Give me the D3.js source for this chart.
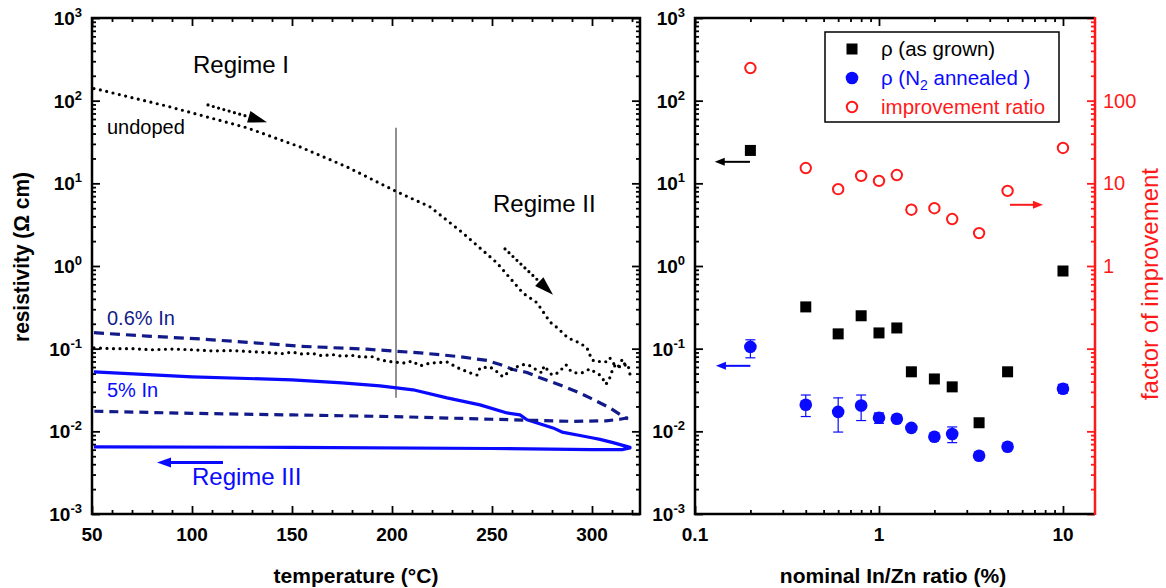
<!DOCTYPE html>
<html><head><meta charset="utf-8">
<script src="https://cdn.jsdelivr.net/npm/d3@7"></script>
<style>
body{margin:0;background:#fff}
svg{display:block}
text{font-family:"Liberation Sans",Arial,Helvetica,sans-serif}
</style>
</head><body>
<svg id="chart" width="1166" height="588"></svg>
<script>
// ---------------- DATA ----------------
const tempTicks = [50, 100, 150, 200, 250, 300];
const decadeExps = [-3, -2, -1, 0, 1, 2, 3];
const ratioTicks = [0.1, 1, 10];
const ratioTickLabels = ["0.1", "1", "10"];
const factorTicks = [1, 10, 100];
const factorTickLabels = ["1", "10", "100"];

// left panel: undoped, heating (Regime I/II)
const undopedHeatT   = [51, 52.5, 70.5, 87.5, 104, 127.5, 154, 177.5, 202.5, 219, 235.5, 252.5, 265.5, 272.5, 279, 282.5, 288, 294, 297.5, 300, 302.5, 305, 307.5, 309, 310.5, 313, 315, 316.5, 318];
const undopedHeatRho = [140, 138, 108, 86, 67, 47, 27.6, 15.8, 7.9, 5.2, 2.5, 1.09, 0.47, 0.36, 0.21, 0.18, 0.135, 0.117, 0.102, 0.073, 0.069, 0.071, 0.069, 0.077, 0.067, 0.060, 0.073, 0.064, 0.055];
// left panel: undoped, cooling
const undopedCoolT   = [51, 60, 70, 80, 90, 100, 110, 120, 130, 140, 145, 150, 155, 160, 165, 170, 175, 180, 185, 190, 194, 200.5, 206.5, 210, 214, 219, 227.5, 234, 239, 242.5, 244, 249, 251.5, 255.5, 260, 265, 268, 272.5, 275, 276, 280, 283, 287, 289, 291, 295, 299, 302, 304, 306, 307, 309, 310.5, 312, 314, 316, 318, 319];
const undopedCoolRho = [0.102, 0.100, 0.100, 0.097, 0.099, 0.097, 0.094, 0.095, 0.092, 0.089, 0.087, 0.091, 0.086, 0.088, 0.082, 0.085, 0.081, 0.083, 0.079, 0.080, 0.073, 0.069, 0.067, 0.071, 0.062, 0.067, 0.069, 0.057, 0.051, 0.048, 0.0585, 0.060, 0.055, 0.0456, 0.057, 0.064, 0.064, 0.055, 0.051, 0.062, 0.048, 0.051, 0.064, 0.055, 0.051, 0.051, 0.057, 0.051, 0.048, 0.041, 0.037, 0.045, 0.058, 0.065, 0.060, 0.066, 0.064, 0.049];
// left panel: 0.6% In
const in06HeatT   = [51, 52.5, 77.5, 104, 130.5, 154, 187.5, 202.5, 214, 234, 247.5, 254, 260.5, 267.5, 274, 284, 294, 299, 309, 316.5, 318];
const in06HeatRho = [0.156, 0.155, 0.142, 0.131, 0.118, 0.107, 0.0985, 0.093, 0.089, 0.080, 0.072, 0.0644, 0.056, 0.0515, 0.0445, 0.0364, 0.029, 0.0254, 0.0192, 0.0146, 0.0142];
const in06CoolT   = [318, 314, 307, 290, 250, 200, 150, 100, 51];
const in06CoolRho = [0.0146, 0.0140, 0.0134, 0.0132, 0.0140, 0.0151, 0.0158, 0.0165, 0.0175];
// left panel: 5% In
const in5HeatT   = [51, 100, 150, 175, 194, 210.5, 227.5, 244, 257.5, 264, 267.5, 280.5, 285, 294, 300.5, 304, 310.5, 319];
const in5HeatRho = [0.0525, 0.0456, 0.042, 0.0386, 0.0355, 0.0318, 0.0254, 0.0209, 0.0167, 0.0158, 0.0138, 0.0110, 0.0098, 0.0089, 0.0083, 0.0080, 0.0073, 0.0064];
const in5CoolT   = [319, 315, 300, 250, 150, 51];
const in5CoolRho = [0.0063, 0.0060, 0.0060, 0.0062, 0.0064, 0.0065];

// right panel
const inZnRatio        = [0.2, 0.4, 0.6, 0.8, 1.0, 1.25, 1.5, 2, 2.5, 3.5, 5, 10];
const rhoAsGrown       = [25, 0.32, 0.151, 0.25, 0.155, 0.178, 0.0525, 0.043, 0.0345, 0.0127, 0.0525, 0.87];
const rhoAnnealed      = [0.105, 0.021, 0.0172, 0.0205, 0.0146, 0.0142, 0.011, 0.0086, 0.0093, 0.00506, 0.0065, 0.0327];
const rhoAnnealedErrHi = [0.128, 0.0275, 0.0254, 0.0275, 0.0167, null, null, null, 0.0113, null, null, 0.037];
const rhoAnnealedErrLo = [0.0775, 0.0151, 0.0098, 0.0135, 0.0125, null, null, null, 0.0073, null, null, 0.029];
const improvementRatio = [248, 15.3, 8.5, 12.3, 10.7, 12.6, 4.8, 5.0, 3.7, 2.5, 8.1, 26.8];

const legendLabels = ["ρ (as grown)", "ρ (N₂ annealed )", "improvement ratio"];

// ---------------- LAYOUT ----------------
const svg = d3.select("#chart");
const TOP = 18, BOT = 514;
const L = {x0: 92, x1: 640};
const R = {x0: 695, x1: 1095};
const NAVY = "#121a8a", BLUE = "#0a0aff", RED = "#ff1a1a";

const xT = d3.scaleLinear().domain([50, 324]).range([L.x0, L.x1]);
const yL = d3.scaleLog().domain([1e-3, 1e3]).range([BOT, TOP]);
const xR = d3.scaleLog().domain([0.1, 14.93]).range([R.x0, R.x1]);
const yR = d3.scaleLog().domain([1e-3, 1e3]).range([BOT, TOP]);
const yF = d3.scaleLog().domain([1e-3, 1e3]).range([BOT, TOP]);

const logMajors = decadeExps.map(k => Math.pow(10, k));
const logMinors = [];
decadeExps.slice(0, -1).forEach(k => { for (let m = 2; m <= 9; m++) logMinors.push(m * Math.pow(10, k)); });
const tempMinors = d3.range(60, 324, 10).filter(v => v % 50 !== 0);
const ratioMinors = [];
[-1, 0].forEach(k => { for (let m = 2; m <= 9; m++) ratioMinors.push(m * Math.pow(10, k)); });

function tickAxis(gen, scale, vals, size, transform, color) {
  const g = svg.append("g").attr("transform", transform)
    .call(gen(scale).tickValues(vals).tickSize(size).tickSizeOuter(0).tickFormat(""));
  g.select(".domain").remove();
  g.selectAll("line").attr("stroke", color || "#000").attr("stroke-width", 1.8);
  return g;
}

// ---- left panel ticks ----
tickAxis(d3.axisRight, yL, logMajors, 8, `translate(${L.x0},0)`);
tickAxis(d3.axisRight, yL, logMinors, 4, `translate(${L.x0},0)`);
tickAxis(d3.axisLeft, yL, logMajors, 8, `translate(${L.x1},0)`);
tickAxis(d3.axisLeft, yL, logMinors, 4, `translate(${L.x1},0)`);
tickAxis(d3.axisTop, xT, tempTicks, 8, `translate(0,${BOT})`);
tickAxis(d3.axisTop, xT, tempMinors, 4, `translate(0,${BOT})`);
tickAxis(d3.axisBottom, xT, tempTicks, 8, `translate(0,${TOP})`);
tickAxis(d3.axisBottom, xT, tempMinors, 4, `translate(0,${TOP})`);

// ---- right panel ticks ----
tickAxis(d3.axisRight, yR, logMajors, 8, `translate(${R.x0},0)`);
tickAxis(d3.axisRight, yR, logMinors, 4, `translate(${R.x0},0)`);
tickAxis(d3.axisLeft, yF, logMajors, 8, `translate(${R.x1},0)`, RED);
tickAxis(d3.axisLeft, yF, logMinors, 4, `translate(${R.x1},0)`, RED);
tickAxis(d3.axisTop, xR, ratioTicks, 8, `translate(0,${BOT})`);
tickAxis(d3.axisTop, xR, ratioMinors, 4, `translate(0,${BOT})`);
tickAxis(d3.axisBottom, xR, ratioTicks, 8, `translate(0,${TOP})`);
tickAxis(d3.axisBottom, xR, ratioMinors, 4, `translate(0,${TOP})`);

// ---- frames ----
svg.append("rect").attr("x", L.x0).attr("y", TOP).attr("width", L.x1 - L.x0).attr("height", BOT - TOP)
  .attr("fill", "none").attr("stroke", "#000").attr("stroke-width", 2.5);
svg.append("path").attr("d", `M${R.x1},${TOP}H${R.x0}V${BOT}H${R.x1}`)
  .attr("fill", "none").attr("stroke", "#000").attr("stroke-width", 2.5);
svg.append("line").attr("x1", R.x1).attr("x2", R.x1).attr("y1", TOP - 1).attr("y2", BOT + 1)
  .attr("stroke", RED).attr("stroke-width", 2.5);

// ---- tick labels ----
function powLabels(scale, xEnd) {
  decadeExps.forEach(k => {
    const t = svg.append("text").attr("x", xEnd).attr("y", scale(Math.pow(10, k)) + 7)
      .attr("text-anchor", "end").attr("font-weight", "bold").attr("font-size", 19);
    t.append("tspan").text("10");
    t.append("tspan").attr("dy", -8).attr("font-size", 13).text(k);
  });
}
powLabels(yL, 82);
powLabels(yR, 685);

tempTicks.forEach(v => {
  svg.append("text").attr("x", xT(v)).attr("y", 541).attr("text-anchor", "middle")
    .attr("font-weight", "bold").attr("font-size", 19).text(v);
});
ratioTicks.forEach((v, i) => {
  svg.append("text").attr("x", xR(v)).attr("y", 541).attr("text-anchor", "middle")
    .attr("font-weight", "bold").attr("font-size", 19).text(ratioTickLabels[i]);
});
factorTicks.forEach((v, i) => {
  svg.append("text").attr("x", 1103).attr("y", yF(v) + 7).attr("fill", RED)
    .attr("font-size", 20).text(factorTickLabels[i]);
});

// ---- axis titles ----
svg.append("text").attr("transform", "translate(29,257) rotate(-90)").attr("text-anchor", "middle")
  .attr("font-weight", "bold").attr("font-size", 22)
  .attr("textLength", 170).attr("lengthAdjust", "spacingAndGlyphs").text("resistivity (Ω cm)");
svg.append("text").attr("x", 356).attr("y", 583).attr("text-anchor", "middle")
  .attr("font-weight", "bold").attr("font-size", 21).text("temperature (°C)");
svg.append("text").attr("x", 893).attr("y", 583).attr("text-anchor", "middle")
  .attr("font-weight", "bold").attr("font-size", 21).text("nominal In/Zn ratio (%)");
svg.append("text").attr("transform", "translate(1158,284) rotate(-90)").attr("text-anchor", "middle")
  .attr("fill", RED).attr("font-size", 24).text("factor of improvement");

// ---- left panel curves ----
const lineL = d3.line().x(d => xT(d[0])).y(d => yL(d[1]));
const zip = (a, b) => a.map((v, i) => [v, b[i]]);
const gL = svg.append("g");

// vertical marker line
gL.append("line").attr("x1", xT(202)).attr("x2", xT(202)).attr("y1", yL(47)).attr("y2", yL(0.0254))
  .attr("stroke", "#555").attr("stroke-width", 1.3);

const dotted = {stroke: "#000", width: 3.2, dash: "0,6.5", cap: "round"};
function drawPath(pts, st) {
  gL.append("path").attr("d", lineL(pts)).attr("fill", "none").attr("stroke", st.stroke)
    .attr("stroke-width", st.width).attr("stroke-dasharray", st.dash || null)
    .attr("stroke-linecap", st.cap || "butt").attr("stroke-linejoin", "round");
}
drawPath(zip(in5HeatT, in5HeatRho).concat(zip(in5CoolT, in5CoolRho)), {stroke: BLUE, width: 3.2});
drawPath(zip(in06HeatT, in06HeatRho), {stroke: NAVY, width: 3.2, dash: "10,6"});
drawPath(zip(in06CoolT, in06CoolRho), {stroke: NAVY, width: 3.2, dash: "9,6"});
drawPath(zip(undopedHeatT, undopedHeatRho), dotted);
drawPath(zip(undopedCoolT, undopedCoolRho), dotted);

// arrows
function arrow(g, x1, y1, x2, y2, o) {
  const dx = x2 - x1, dy = y2 - y1, len = Math.hypot(dx, dy);
  const ux = dx / len, uy = dy / len;
  const bx = x2 - ux * o.head, by = y2 - uy * o.head;
  g.append("line").attr("x1", x1).attr("y1", y1).attr("x2", bx + ux * 1).attr("y2", by + uy * 1)
    .attr("stroke", o.color).attr("stroke-width", o.width)
    .attr("stroke-dasharray", o.dash || null).attr("stroke-linecap", o.dash ? "round" : "butt");
  const px = -uy * o.hw, py = ux * o.hw;
  g.append("path").attr("d", `M${x2},${y2}L${bx + px},${by + py}L${bx - px},${by - py}Z`).attr("fill", o.color);
}
arrow(gL, xT(108), yL(88.7), xT(137.5), yL(55), {color: "#000", width: 3.2, dash: "0,5.5", head: 19, hw: 6});
arrow(gL, xT(256.5), yL(1.61), xT(280.5), yL(0.45), {color: "#000", width: 3.2, dash: "0,5.5", head: 19, hw: 6});
arrow(gL, xT(115.5), yL(0.0042), xT(82.5), yL(0.0042), {color: BLUE, width: 3.2, head: 14, hw: 5});

// annotations
const ann = (x, y, txt, size, color) => gL.append("text").attr("x", x).attr("y", y)
  .attr("font-size", size).attr("fill", color).text(txt);
ann(xT(100.5), yL(216), "Regime I", 24, "#000");
ann(xT(57.5), yL(40), "undoped", 20, "#000");
ann(xT(250.5), yL(4.5), "Regime II", 24, "#000");
ann(xT(57.5), yL(0.193), "0.6% In", 20, NAVY);
ann(xT(57.5), yL(0.026), "5% In", 20, BLUE);
ann(xT(100), yL(0.00224), "Regime III", 24, BLUE);

// ---- right panel ----
const gR = svg.append("g");
// error bars
inZnRatio.forEach((x, i) => {
  if (rhoAnnealedErrHi[i] == null) return;
  const cx = xR(x), y1 = yR(rhoAnnealedErrHi[i]), y2 = yR(rhoAnnealedErrLo[i]);
  gR.append("line").attr("x1", cx).attr("x2", cx).attr("y1", y1).attr("y2", y2).attr("stroke", BLUE).attr("stroke-width", 1.2);
  [y1, y2].forEach(yy => gR.append("line").attr("x1", cx - 5).attr("x2", cx + 5).attr("y1", yy).attr("y2", yy)
    .attr("stroke", BLUE).attr("stroke-width", 1.2));
});
gR.selectAll(".sq").data(inZnRatio).join("rect").attr("class", "sq")
  .attr("x", d => xR(d) - 5.5).attr("y", (d, i) => yR(rhoAsGrown[i]) - 5.5)
  .attr("width", 11).attr("height", 11).attr("fill", "#000");
gR.selectAll(".ci").data(inZnRatio).join("circle").attr("class", "ci")
  .attr("cx", d => xR(d)).attr("cy", (d, i) => yR(rhoAnnealed[i])).attr("r", 6.3).attr("fill", BLUE);
gR.selectAll(".oc").data(inZnRatio).join("circle").attr("class", "oc")
  .attr("cx", d => xR(d)).attr("cy", (d, i) => yF(improvementRatio[i])).attr("r", 5.2)
  .attr("fill", "none").attr("stroke", RED).attr("stroke-width", 2);

arrow(gR, xR(0.199), yR(18.2), xR(0.128), yR(18.2), {color: "#000", width: 2, head: 10, hw: 4});
arrow(gR, xR(0.2), yR(0.062), xR(0.13), yR(0.062), {color: BLUE, width: 2, head: 10, hw: 4});
arrow(gR, xR(5.15), yF(5.5), xR(7.78), yF(5.5), {color: RED, width: 2, head: 10, hw: 4});

// legend
const lg = svg.append("g");
lg.append("rect").attr("x", 825).attr("y", 32).attr("width", 234).attr("height", 90)
  .attr("fill", "#fff").attr("stroke", "#000").attr("stroke-width", 1.5);
const ly = [49, 78, 107];
lg.append("rect").attr("x", 852 - 5.5).attr("y", ly[0] - 5.5).attr("width", 11).attr("height", 11).attr("fill", "#000");
lg.append("circle").attr("cx", 852).attr("cy", ly[1]).attr("r", 6.3).attr("fill", BLUE);
lg.append("circle").attr("cx", 852).attr("cy", ly[2]).attr("r", 5.2).attr("fill", "none").attr("stroke", RED).attr("stroke-width", 2);
lg.append("text").attr("x", 881).attr("y", ly[0] + 7).attr("font-size", 20.5).attr("fill", "#000").text(legendLabels[0]);
const t2 = lg.append("text").attr("x", 881).attr("y", ly[1] + 7).attr("font-size", 20.5).attr("fill", BLUE);
t2.append("tspan").text("ρ (N");
t2.append("tspan").attr("font-size", 14).attr("dy", 5).text("2");
t2.append("tspan").attr("dy", -5).text(" annealed )");
lg.append("text").attr("x", 881).attr("y", ly[2] + 7).attr("font-size", 20.5).attr("fill", RED).text(legendLabels[2]);
</script>
</body></html>
